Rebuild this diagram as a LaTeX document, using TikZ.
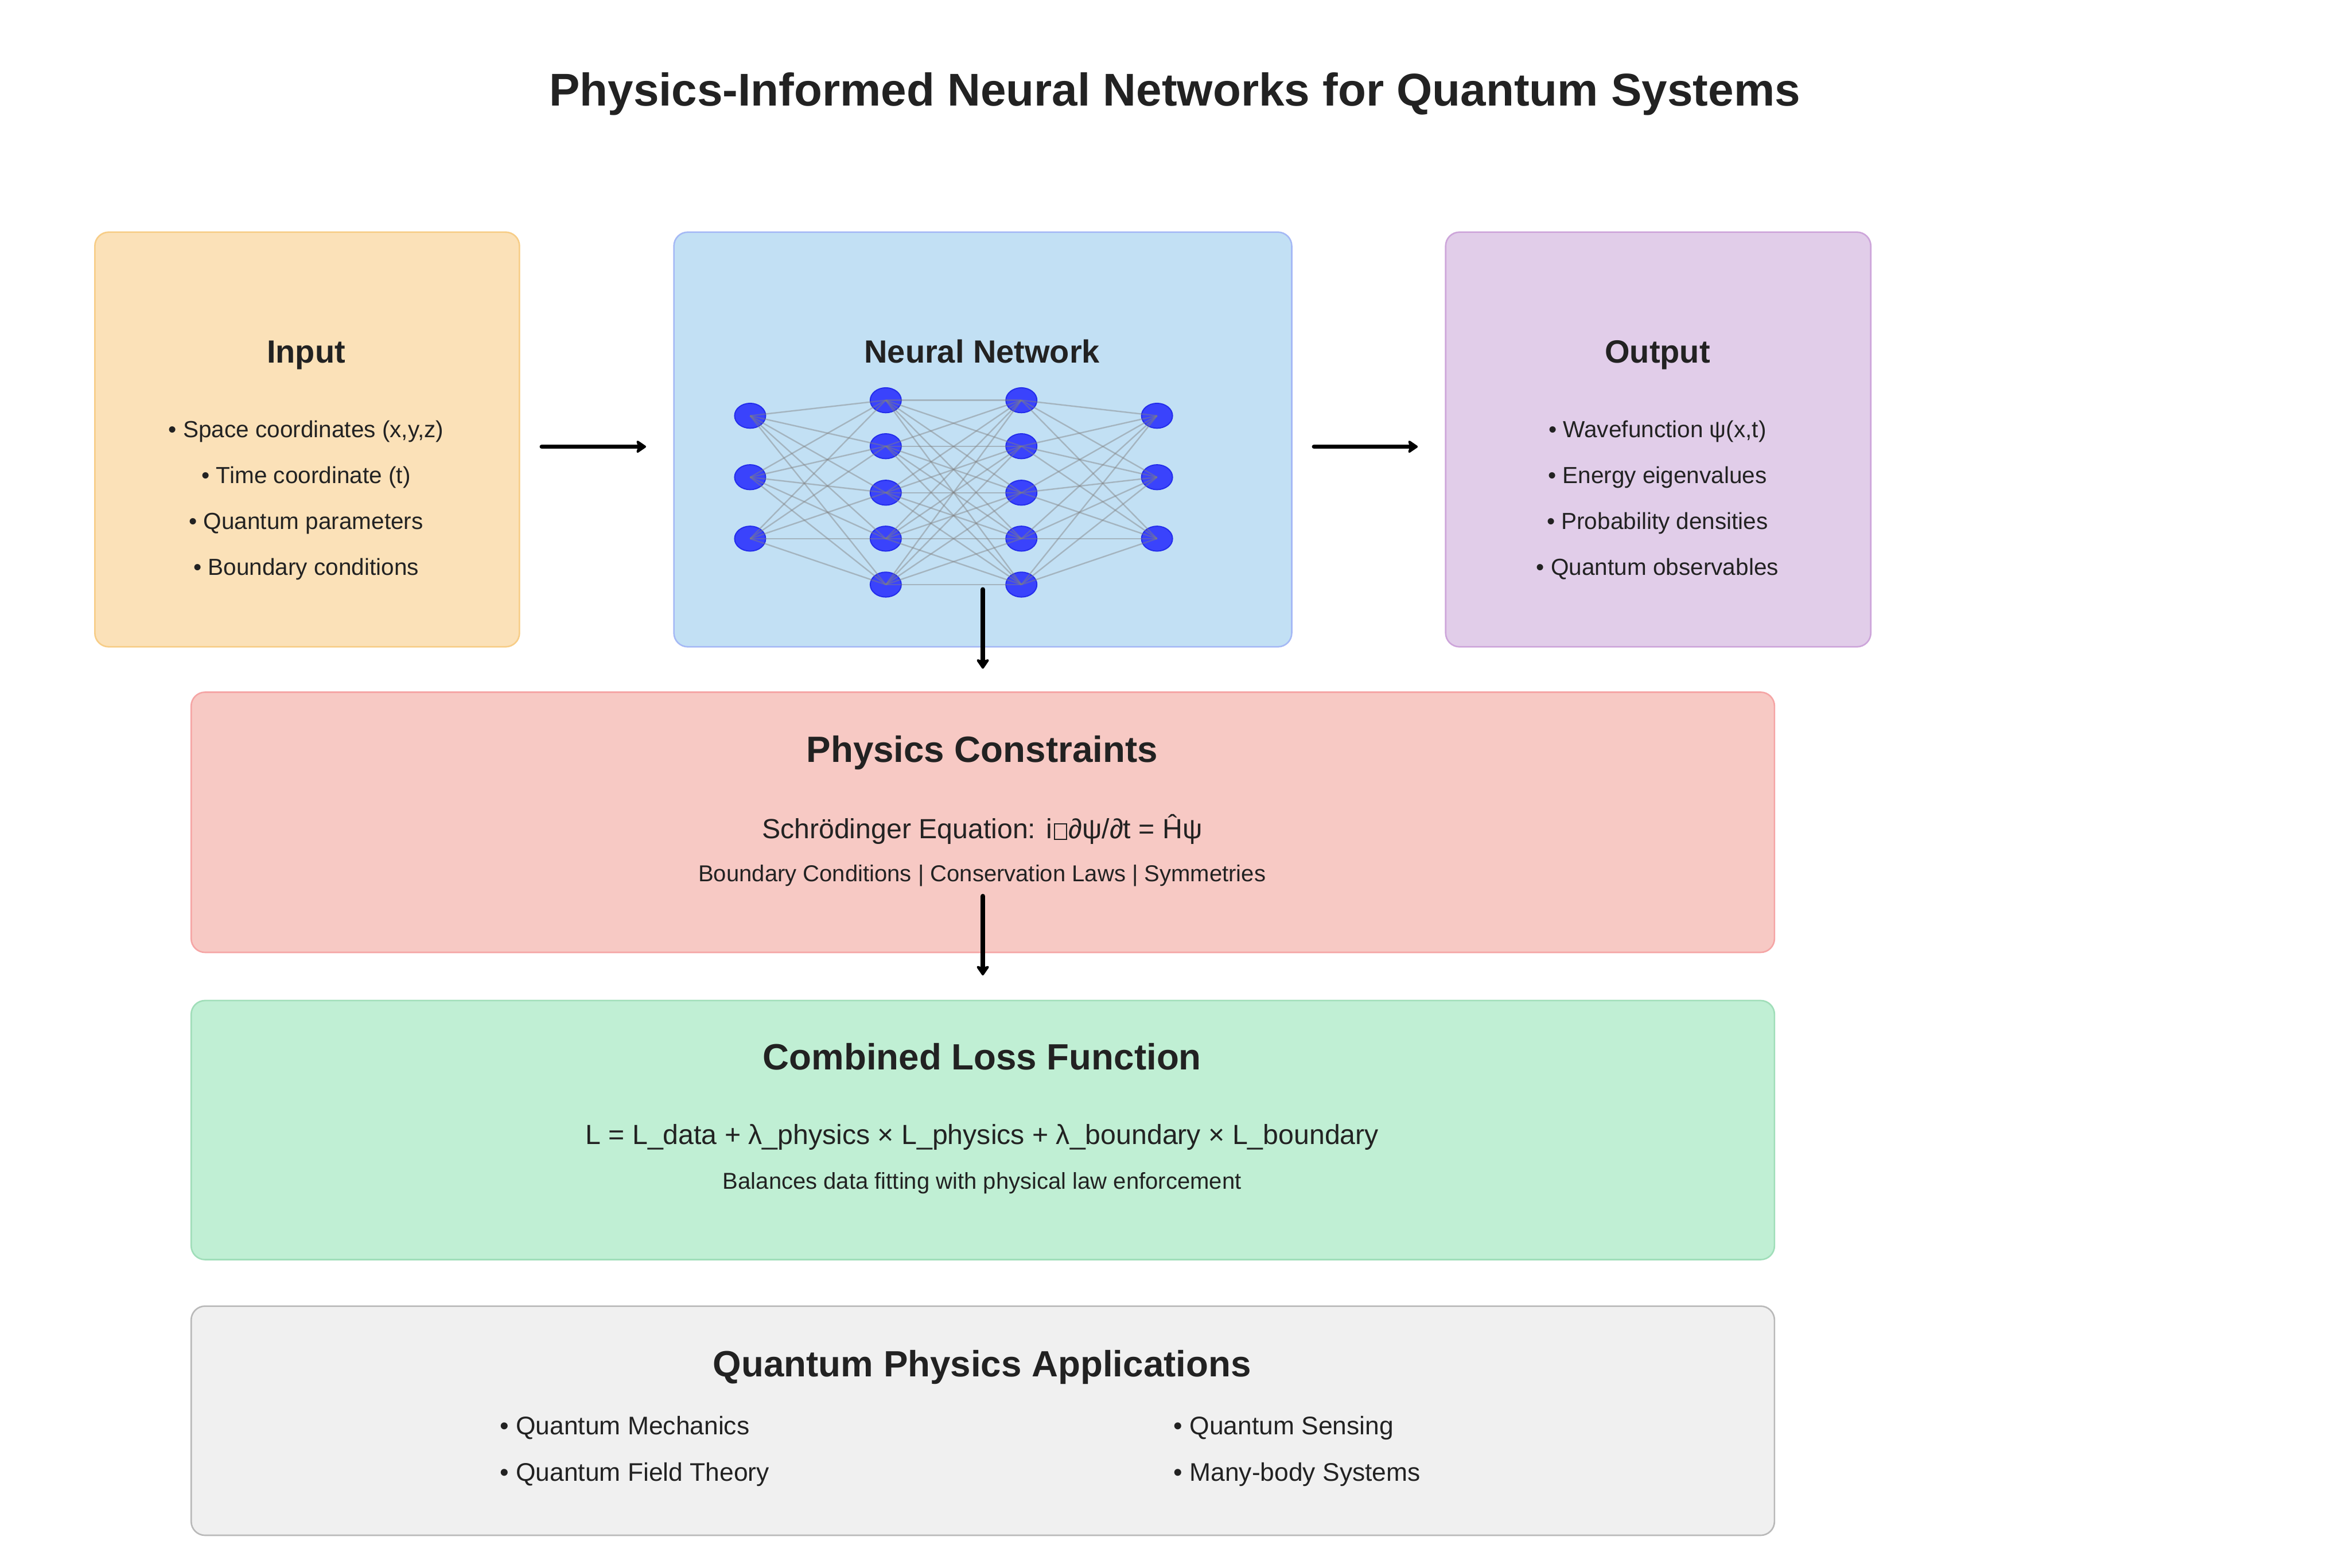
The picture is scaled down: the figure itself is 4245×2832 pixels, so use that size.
\documentclass[tikz,border=0pt]{standalone}
\usepackage{fontspec}
\setmainfont{Liberation Sans}
\usetikzlibrary{shapes.geometric,arrows.meta}
\definecolor{txt}{HTML}{222222}
\definecolor{inpfill}{RGB}{251,225,184}
\definecolor{inpline}{RGB}{247,205,135}
\definecolor{nnfill}{RGB}{194,224,244}
\definecolor{nnline}{RGB}{165,185,245}
\definecolor{outfill}{RGB}{225,205,233}
\definecolor{outline}{RGB}{205,165,218}
\definecolor{physfill}{RGB}{247,201,196}
\definecolor{physline}{RGB}{245,165,165}
\definecolor{lossfill}{RGB}{192,239,212}
\definecolor{lossline}{RGB}{160,222,185}
\definecolor{appfill}{RGB}{240,240,240}
\definecolor{appline}{RGB}{185,185,185}
\definecolor{neuronfill}{RGB}{58,67,252}
\definecolor{neuronline}{RGB}{35,45,235}
\newcommand\setfs[1]{\fontsize{#1}{#1}\selectfont}
\newcommand\tofubox{\hspace{3pt}{\setlength\fboxsep{0pt}\setlength\fboxrule{2.2pt}\fbox{\rule{0pt}{26pt}\rule{20pt}{0pt}}}\hspace{2pt}}
\begin{document}
\begin{tikzpicture}[x=1pt,y=-1pt,
  boxsty/.style={rounded corners=25pt, line width=2.7pt, anchor=north west, inner sep=0pt},
  txtn/.style={text=txt, inner sep=0pt, anchor=base},
  nnode/.style={ellipse, fill=neuronfill, draw=neuronline, line width=2pt, minimum width=56pt, minimum height=45pt, inner sep=0pt},
  nedge/.style={draw=black!50, draw opacity=0.45, line width=2.5pt},
  flowarrow/.style={line width=8pt, line cap=round, -{Stealth[length=20pt, width=27pt, inset=4pt, round]}}]
\useasboundingbox (0,0) rectangle (4245,2832);
\fill[white] (0,0) rectangle (4245,2832);

% title
\node[txtn] (title) at (2122,191) {\setfs{83}\bfseries Physics-Informed Neural Networks for Quantum Systems};

% boxes
\node[boxsty, fill=inpfill, draw=inpline, minimum width=767pt, minimum height=749pt] (inp) at (170,418) {};
\node[boxsty, fill=nnfill, draw=nnline, minimum width=1116pt, minimum height=749pt] (nn) at (1216,418) {};
\node[boxsty, fill=outfill, draw=outline, minimum width=768pt, minimum height=749pt] (out) at (2610,418) {};
\node[boxsty, fill=physfill, draw=physline, minimum width=2860pt, minimum height=470pt] (phys) at (344,1249) {};
\node[boxsty, fill=lossfill, draw=lossline, minimum width=2860pt, minimum height=468pt] (loss) at (344,1806) {};
\node[boxsty, fill=appfill, draw=appline, minimum width=2860pt, minimum height=414pt] (apps) at (344,2358) {};

% input texts
\node[txtn] (inpT) at (553,656) {\setfs{58}\bfseries Input};
\node[txtn] (inpA) at (553,790) {\setfs{42}• Space coordinates (x,y,z)};
\node[txtn] (inpB) at (553,873) {\setfs{42}• Time coordinate (t)};
\node[txtn] (inpC) at (553,956) {\setfs{42}• Quantum parameters};
\node[txtn] (inpD) at (553,1039) {\setfs{42}• Boundary conditions};

% output texts
\node[txtn] (outT) at (2994,656) {\setfs{58}\bfseries Output};
\node[txtn] (outA) at (2994,790) {\setfs{42}• Wavefunction ψ(x,t)};
\node[txtn] (outB) at (2994,873) {\setfs{42}• Energy eigenvalues};
\node[txtn] (outC) at (2994,956) {\setfs{42}• Probability densities};
\node[txtn] (outD) at (2994,1039) {\setfs{42}• Quantum observables};

% neural network
\node[txtn] (nnT) at (1774,656) {\setfs{58}\bfseries Neural Network};
\foreach \i/\y in {1/751,2/862,3/973} {
  \node[nnode] (n1-\i) at (1355,\y) {};
  \node[nnode] (n4-\i) at (2090,\y) {};
}
\foreach \i/\y in {1/723,2/806,3/890,4/973,5/1056} {
  \node[nnode] (n2-\i) at (1600,\y) {};
  \node[nnode] (n3-\i) at (1845,\y) {};
}
\foreach \a in {1,2,3} \foreach \b in {1,...,5} {
  \draw[nedge] (n1-\a.center) -- (n2-\b.center);
  \draw[nedge] (n3-\b.center) -- (n4-\a.center);
}
\foreach \a in {1,...,5} \foreach \b in {1,...,5} {
  \draw[nedge] (n2-\a.center) -- (n3-\b.center);
}

% physics constraints
\node[txtn] (physT) at (1774,1377) {\setfs{66}\bfseries Physics Constraints};
\node[txtn] (physE) at (1774,1515) {\setfs{50}Schrödinger Equation: i\tofubox∂ψ/∂t = Ĥψ};
\node[txtn] (physS) at (1774,1592) {\setfs{41.5}Boundary Conditions | Conservation Laws | Symmetries};

% loss
\node[txtn] (lossT) at (1774,1932) {\setfs{66}\bfseries Combined Loss Function};
\node[txtn] (lossE) at (1774,2067) {\setfs{50}L = L\_data + λ\_physics × L\_physics + λ\_boundary × L\_boundary};
\node[txtn] (lossS) at (1774,2148) {\setfs{41.5}Balances data fitting with physical law enforcement};

% applications
\node[txtn] (appT) at (1774,2487) {\setfs{66}\bfseries Quantum Physics Applications};
\node[txtn, anchor=base west] (appA) at (903,2591) {\setfs{46}• Quantum Mechanics};
\node[txtn, anchor=base west] (appB) at (903,2675) {\setfs{46}• Quantum Field Theory};
\node[txtn, anchor=base west] (appC) at (2120,2591) {\setfs{46}• Quantum Sensing};
\node[txtn, anchor=base west] (appD) at (2120,2675) {\setfs{46}• Many-body Systems};

% arrows
\draw[flowarrow] ([xshift=39pt,yshift=-13pt]inp.east) -- ([xshift=-49pt,yshift=-13pt]nn.west);
\draw[flowarrow] ([xshift=39pt,yshift=-13pt]nn.east) -- ([xshift=-49pt,yshift=-13pt]out.west);
\draw[flowarrow] ([yshift=105pt]nn.south) -- ([yshift=41pt]phys.north);
\draw[flowarrow] ([yshift=103pt]phys.south) -- ([yshift=44pt]loss.north);
\end{tikzpicture}
\end{document}
